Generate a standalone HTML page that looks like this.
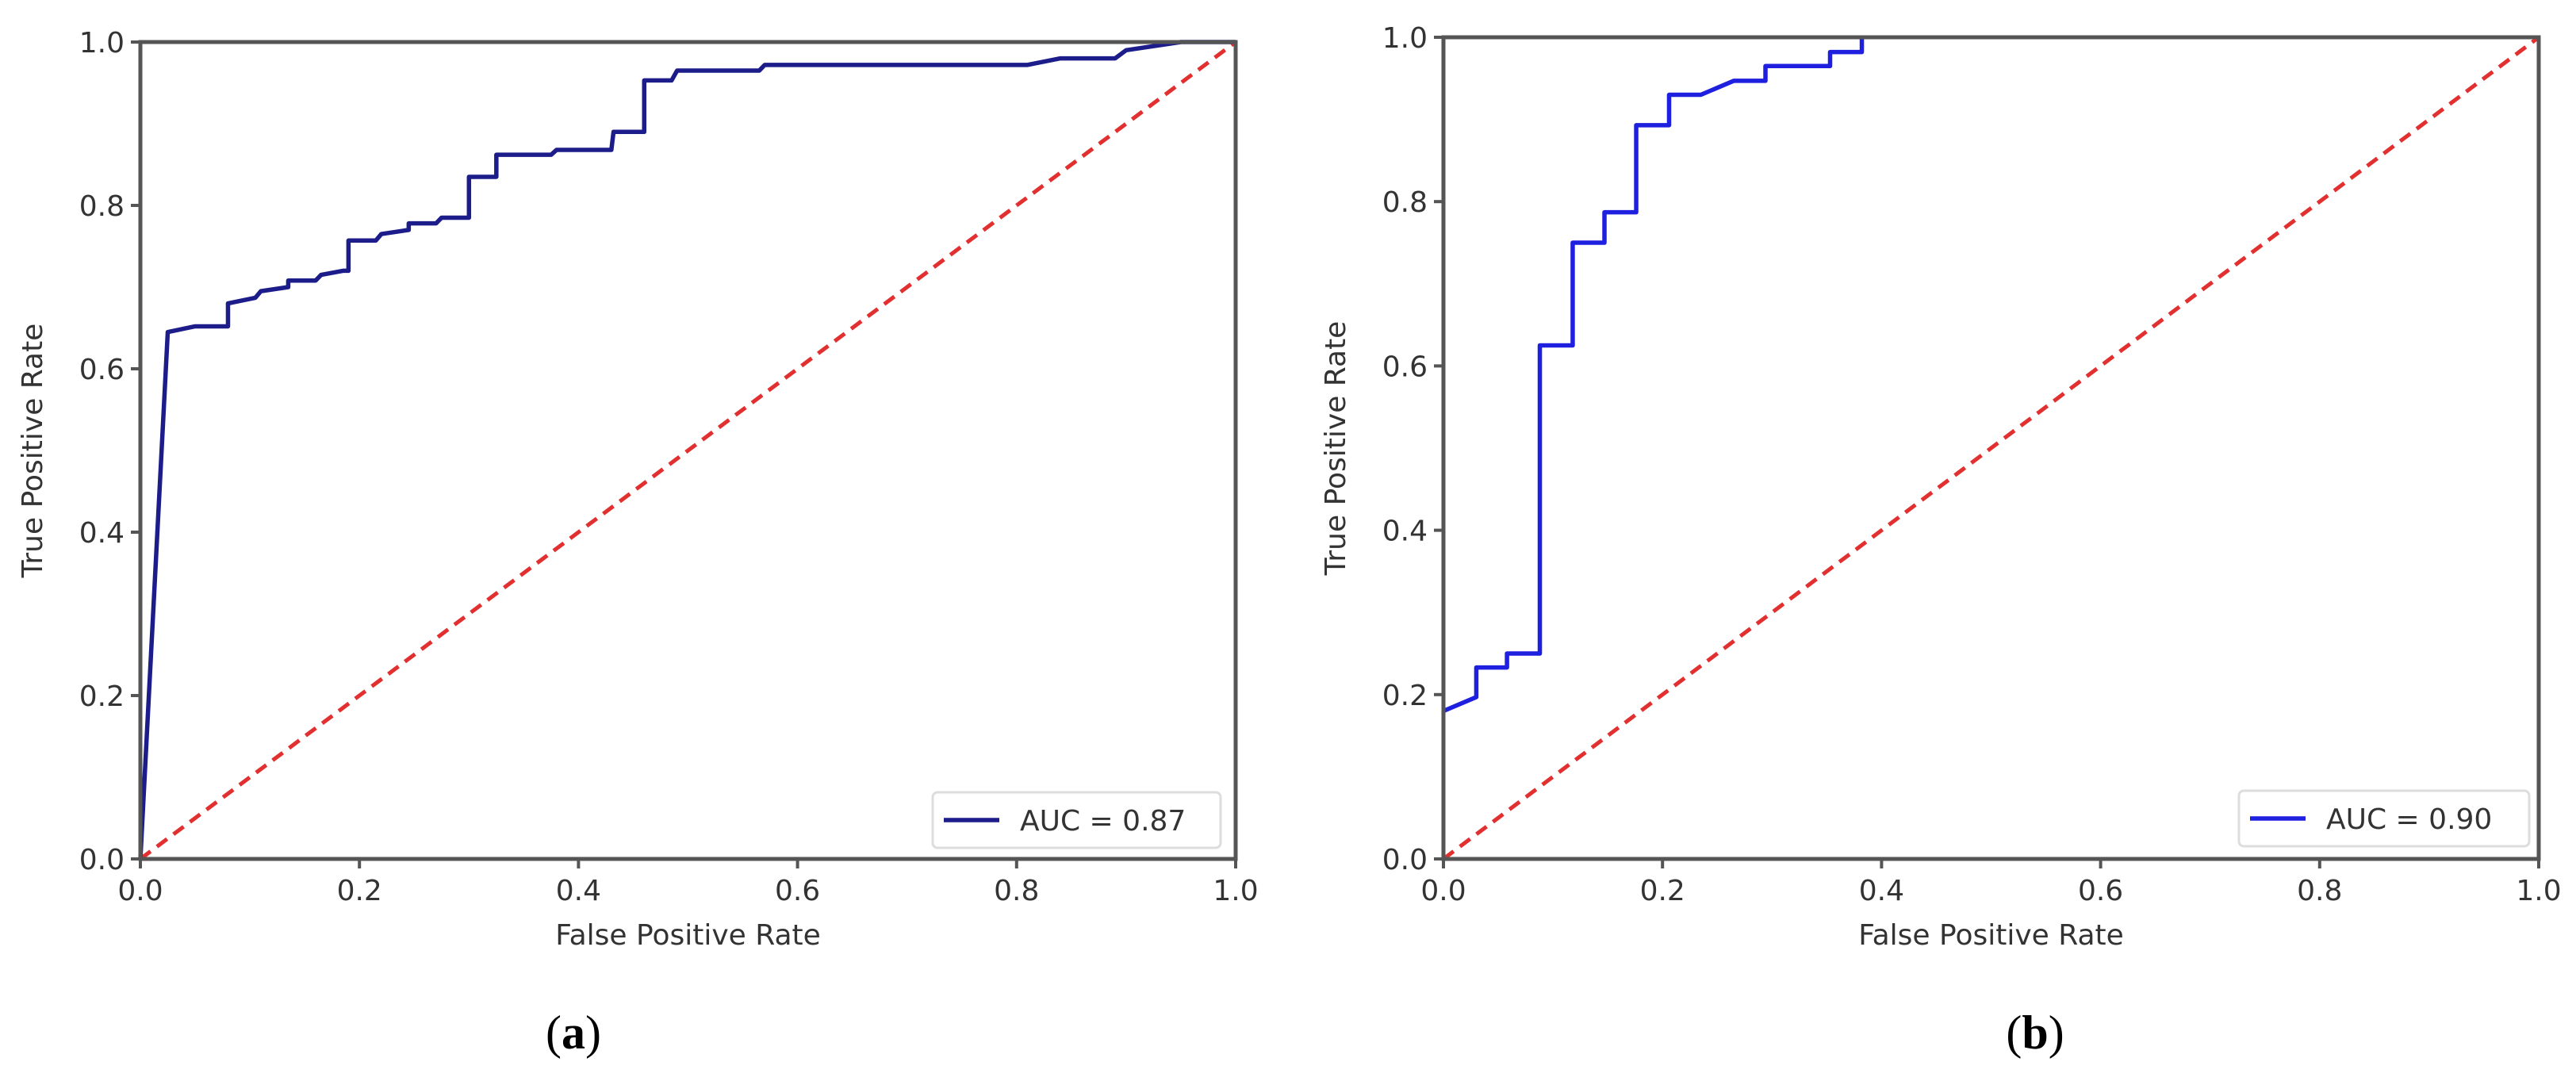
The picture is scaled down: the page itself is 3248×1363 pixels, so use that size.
<!DOCTYPE html>
<html><head><meta charset="utf-8"><style>
body{margin:0;background:#fff;}
svg{display:block;font-family:"DejaVu Sans","Liberation Sans",sans-serif;}
</style></head><body>
<svg id="fig" width="3248" height="1363" viewBox="0 0 3248 1363"></svg>
<script>
const ticks=[0,0.2,0.4,0.6,0.8,1.0];
const tickLabels=["0.0","0.2","0.4","0.6","0.8","1.0"];
const fprA=[0,0.025,0.05,0.08,0.08,0.105,0.11,0.135,0.135,0.16,0.165,0.185,0.19,0.19,0.215,0.22,0.245,0.245,0.27,0.275,0.3,0.3,0.325,0.325,0.375,0.38,0.43,0.432,0.46,0.46,0.485,0.49,0.565,0.57,0.81,0.84,0.89,0.9,0.95,1];
const tprA=[0,0.645,0.652,0.652,0.68,0.687,0.695,0.70,0.708,0.708,0.715,0.72,0.72,0.757,0.757,0.765,0.77,0.778,0.778,0.785,0.785,0.835,0.835,0.862,0.862,0.868,0.868,0.89,0.89,0.953,0.953,0.965,0.965,0.972,0.972,0.98,0.98,0.99,1,1];
const fprB=[0,0.03,0.03,0.058,0.058,0.088,0.088,0.118,0.118,0.147,0.147,0.176,0.176,0.206,0.206,0.235,0.265,0.294,0.294,0.353,0.353,0.382,0.382];
const tprB=[0.18,0.197,0.233,0.233,0.25,0.25,0.625,0.625,0.75,0.75,0.787,0.787,0.893,0.893,0.93,0.93,0.947,0.947,0.965,0.965,0.982,0.982,1.0];
const NS="http://www.w3.org/2000/svg";
const svg=document.getElementById('fig');
function mk(tag,attrs,parent){const e=document.createElementNS(NS,tag);for(const k in attrs)e.setAttribute(k,attrs[k]);(parent||svg).appendChild(e);return e;}
function panel(id,x0,x1,y0,y1,fpr,tpr,color,auc,legX,legY,legW,capX,cap){
  const g=mk('g',{});
  
  
  const sx=v=>x0+v*(x1-x0), sy=v=>y1-v*(y1-y0);
  const d=mk('line',{x1:sx(0),y1:sy(0),x2:sx(1),y2:sy(1),stroke:'#e23030','stroke-width':5,'stroke-dasharray':'16,10'},g);
  
  
  let pts=fpr.map((f,i)=>sx(f)+','+sy(tpr[i])).join(' ');
  const c=mk('polyline',{points:pts,fill:'none',stroke:color,'stroke-width':5.5,'stroke-linejoin':'round'},g);
  
  
  const f=mk('rect',{x:x0,y:y0,width:x1-x0,height:y1-y0,fill:'none',stroke:'#555','stroke-width':5},g);
  
  
  ticks.forEach((t,i)=>{
    mk('line',{x1:sx(t),y1:y1,x2:sx(t),y2:y1+12,stroke:'#555','stroke-width':4},g);
    const tx=mk('text',{x:sx(t),y:y1+52,'font-size':36,fill:'#333','text-anchor':'middle'},g);
    tx.textContent=tickLabels[i];
    
    
    mk('line',{x1:x0-12,y1:sy(t),x2:x0,y2:sy(t),stroke:'#555','stroke-width':4},g);
    const ty=mk('text',{x:x0-20,y:sy(t)+13,'font-size':36,fill:'#333','text-anchor':'end'},g);
    ty.textContent=tickLabels[i];
    
    
  });
  const xl=mk('text',{x:(x0+x1)/2,y:y1+108,'font-size':36,fill:'#333','text-anchor':'middle'},g);
  xl.textContent='False Positive Rate';
  
  
  const yx=x0-124, yy=(y0+y1)/2;
  const yl=mk('text',{x:yx,y:yy,'font-size':36,fill:'#333','text-anchor':'middle',transform:`rotate(-90 ${yx} ${yy})`},g);
  yl.textContent='True Positive Rate';
  
  
  const lg=mk('g',{},g);
  
  
  mk('rect',{x:legX,y:legY,width:legW,height:70,rx:6,fill:'#fff',stroke:'#ddd','stroke-width':3},lg);
  mk('line',{x1:legX+14,y1:legY+35,x2:legX+84,y2:legY+35,stroke:color,'stroke-width':5.5},lg);
  const lt=mk('text',{x:legX+110,y:legY+48,'font-size':36,fill:'#333'},lg);
  lt.textContent='AUC = '+auc;
  
  
  const cp=mk('text',{x:capX,y:1322,'font-size':60,fill:'#000','text-anchor':'middle','font-family':'Liberation Serif, serif'},g);
  cp.innerHTML='(<tspan font-weight="bold">'+cap+'</tspan>)';
  
  
}
panel('a',177,1558,53,1083,fprA,tprA,'#1c1c8a','0.87',1176,999,363,723,'a');
panel('b',1820,3201,47,1083,fprB,tprB,'#1f1fe0','0.90',2823,997,366,2566,'b');
</script>
</body></html>
